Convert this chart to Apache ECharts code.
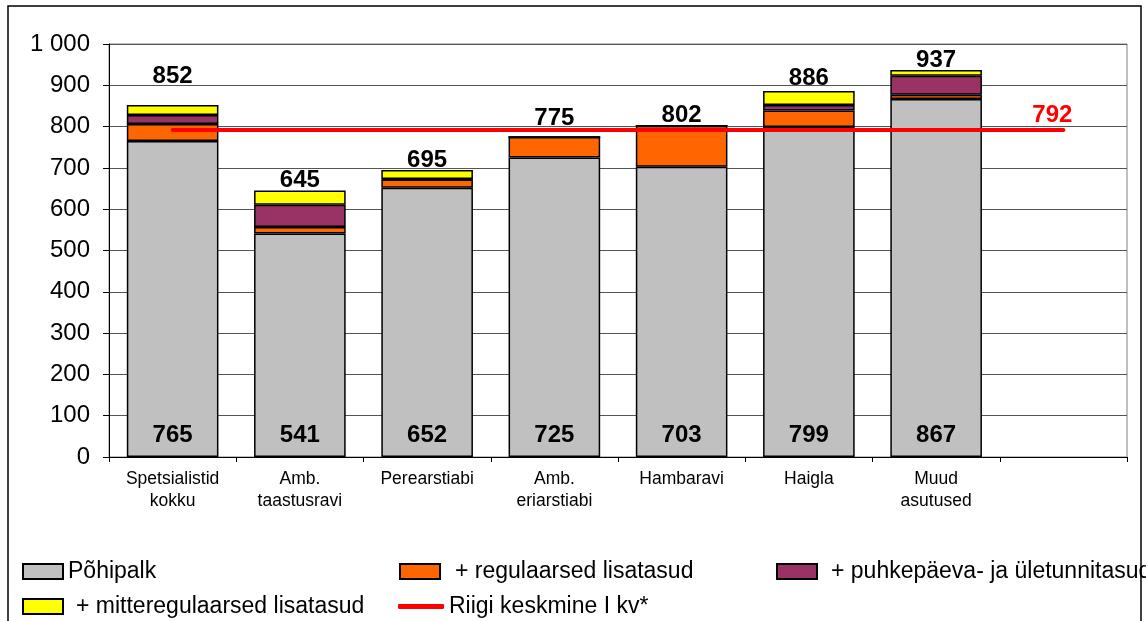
<!DOCTYPE html>
<html>
<head>
<meta charset="utf-8">
<script src="https://cdn.jsdelivr.net/npm/echarts@6/dist/echarts.min.js"></script>
<style>
  html, body { margin: 0; padding: 0; background: #fff; }
  #chart { width: 1146px; height: 621px; }
</style>
</head>
<body>
<div id="chart"></div>
<script>
// andmed
const categories = ['Spetsialistid\nkokku', 'Amb.\ntaastusravi', 'Perearstiabi', 'Amb.\neriarstiabi', 'Hambaravi', 'Haigla', 'Muud\nasutused', ''];
const pohipalk = [765, 541, 652, 725, 703, 799, 867];
const regulaarsed = [41, 16, 20, 50, 99, 40, 10];
const puhkepaev = [22, 54, 1, 0, 0, 13, 46];
const mitteregulaarsed = [24, 34, 22, 0, 0, 34, 14];
const totals = [852, 645, 695, 775, 802, 886, 937];
const riigiKeskmine = [792, 792, 792, 792, 792, 792, 792, 792];

const font = 'Liberation Sans, Arial, sans-serif';
const border = { borderColor: '#000', borderWidth: 1.5 };

const myChart = echarts.init(document.getElementById('chart'));

const legendText = { fontFamily: font, fontSize: 23, color: '#000' };
const legendBase = {
    orient: 'horizontal',
    padding: 0,
    icon: 'rect',
    itemWidth: 40,
    itemHeight: 15,
    textStyle: legendText
};
const pad = left => Object.assign({}, legendText, { padding: [0, 0, 0, left] });

const option = {
    backgroundColor: '#fff',
    animation: false,
    textStyle: { fontFamily: font },
    graphic: [{
        type: 'rect',
        shape: { x: 8, y: 6, width: 1133, height: 640 },
        style: { fill: 'none', stroke: '#000', lineWidth: 1.5 },
        z: -1
    }],
    legend: [
        Object.assign({}, legendBase, { left: 22, top: 560, data: ['Põhipalk'] }),
        Object.assign({}, legendBase, { left: 399, top: 560, data: ['+ regulaarsed lisatasud'], textStyle: pad(10) }),
        Object.assign({}, legendBase, { left: 776, top: 560, data: ['+ puhkepäeva- ja ületunnitasud'], textStyle: pad(9) }),
        Object.assign({}, legendBase, { left: 22, top: 595, data: ['+ mitteregulaarsed lisatasud'], textStyle: pad(8) }),
        Object.assign({}, legendBase, {
            left: 398, top: 595, itemWidth: 46, itemHeight: 5,
            icon: 'roundRect',
            data: ['Riigi keskmine I kv*'], textStyle: pad(0)
        })
    ],
    grid: {
        left: 109,
        right: 19,
        top: 44,
        bottom: 164,
        show: true,
        borderColor: '#808080',
        borderWidth: 1,
        backgroundColor: 'transparent'
    },
    xAxis: {
        type: 'category',
        data: categories,
        axisLine: { lineStyle: { color: '#000', width: 1 } },
        axisTick: { show: true, length: 5, lineStyle: { color: '#000' } },
        axisLabel: {
            interval: 0,
            margin: 11,
            fontSize: 17.5,
            lineHeight: 22,
            color: '#000',
            fontFamily: font
        }
    },
    yAxis: {
        type: 'value',
        min: 0,
        max: 1000,
        interval: 100,
        axisLine: { show: true, lineStyle: { color: '#000', width: 1 } },
        axisTick: { show: true, length: 6, lineStyle: { color: '#000' } },
        axisLabel: {
            margin: 19,
            fontSize: 24,
            color: '#000',
            fontFamily: font,
            formatter: v => String(v).replace(/\B(?=(\d{3})+(?!\d))/g, ' ')
        },
        splitLine: { show: true, lineStyle: { color: '#555', width: 1 } }
    },
    series: [
        {
            name: 'Põhipalk',
            type: 'bar',
            stack: 'palk',
            barCategoryGap: '28%',
            data: pohipalk,
            itemStyle: Object.assign({ color: '#C0C0C0' }, border),
            label: {
                show: true,
                position: 'insideBottom',
                distance: 10,
                fontSize: 24,
                fontWeight: 'bold',
                color: '#000',
                fontFamily: font
            }
        },
        {
            name: '+ regulaarsed lisatasud',
            type: 'bar',
            stack: 'palk',
            data: regulaarsed,
            itemStyle: Object.assign({ color: '#FF6600' }, border)
        },
        {
            name: '+ puhkepäeva- ja ületunnitasud',
            type: 'bar',
            stack: 'palk',
            data: puhkepaev,
            itemStyle: Object.assign({ color: '#993366' }, border)
        },
        {
            name: '+ mitteregulaarsed lisatasud',
            type: 'bar',
            stack: 'palk',
            data: mitteregulaarsed.map((v, i) => ({
                value: v,
                label: { distance: i === 0 ? 17 : (i === 3 ? 6 : (i === 5 ? 1 : -2)) }
            })),
            itemStyle: Object.assign({ color: '#FFFF00' }, border),
            label: {
                show: true,
                position: 'top',
                fontSize: 24,
                fontWeight: 'bold',
                color: '#000',
                fontFamily: font,
                formatter: p => totals[p.dataIndex]
            }
        },
        {
            name: 'Riigi keskmine I kv*',
            type: 'line',
            data: riigiKeskmine.map((v, i) => ({
                value: v,
                label: { show: i === riigiKeskmine.length - 1 }
            })),
            symbol: 'circle',
            symbolSize: 1,
            showSymbol: true,
            showAllSymbol: true,
            z: 5,
            lineStyle: { color: '#FF0000', width: 4, cap: 'round' },
            itemStyle: { color: '#FF0000' },
            label: {
                position: 'top',
                distance: 2,
                offset: [-11, 0],
                fontSize: 24,
                fontWeight: 'bold',
                color: '#FF0000',
                fontFamily: font
            }
        }
    ]
};

myChart.setOption(option);
window.addEventListener('resize', function () {
    myChart.resize();
});
</script>
</body>
</html>
